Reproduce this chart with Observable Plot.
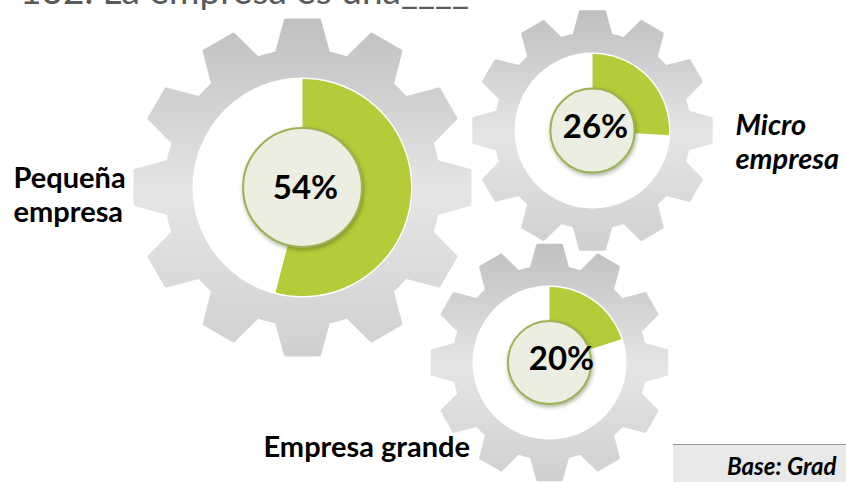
<!DOCTYPE html>
<html><head><meta charset="utf-8">
<script src="https://cdn.jsdelivr.net/npm/d3@7"></script>
<script src="https://cdn.jsdelivr.net/npm/@observablehq/plot@0.6"></script>
<style>
body{margin:0;background:#fff;}
#wrap{position:relative;width:846px;height:482px;overflow:hidden;font-family:Lato,sans-serif;}
#chart{position:absolute;left:0;top:0;}
#title{position:absolute;left:20px;top:-29px;font-size:37px;line-height:1;color:#5a5a5a;white-space:pre;}
#base{position:absolute;left:673px;top:444px;width:173px;height:38px;background:#e9e9e9;border-top:1px solid #9c9c9c;box-sizing:border-box;overflow:hidden;}
#base span{position:absolute;left:54px;top:9px;font-size:24px;font-weight:bold;font-style:italic;color:#000;white-space:pre;line-height:1;}
</style></head>
<body><div id="wrap"><div id="chart"></div><div id="title"></div><div id="base"><span></span></div></div>
<script>
// ---- data ----
const categories = ["Pequeña empresa", "Micro empresa", "Empresa grande"];
const values = [54, 26, 20];
const valueLabels = ["54%", "26%", "20%"];
const titleText = "132. La empresa es una____";
const baseText = "Base: Grad";

// ---- layout (pixel positions / sizes, not data) ----
const layout = [
  {cx: 302, cy: 187, s: 110, px: 305, py: 188, tx: 13, ty: 163, wrap: true, italic: false},
  {cx: 592, cy: 130, s: 78, px: 595, py: 127, tx: 735, ty: 110, wrap: true, italic: true},
  {cx: 549, cy: 362, s: 77, px: 561, py: 359, tx: 263, ty: 432, wrap: false, italic: false}
];

const gears = categories.map((c, i) => ({category: c, value: values[i], label: valueLabels[i], ...layout[i]}));
const rad = Math.PI / 180;
const pt = (g, a, r) => ({category: g.category, x: g.cx + r * Math.sin(a * rad), y: g.cy - r * Math.cos(a * rad)});

// gear outlines
const gearPts = [];
for (const g of gears) {
  const R = 1.53 * g.s, r = 1.245 * g.s;
  for (let k = 0; k < 12; k++) {
    const c = k * 30;
    for (const [a, rr] of [[c - 15, r], [c - 11, r], [c - 5.8, R], [c + 5.8, R], [c + 11, r]]) gearPts.push(pt(g, a, rr));
  }
}
// value slices
const slicePts = [];
for (const g of gears) {
  const end = g.value * 3.6;
  const outer = g.s - 1.5, inner = 0.4 * g.s;
  for (let a = 0; a <= end; a += 1) slicePts.push(pt(g, a, outer));
  slicePts.push(pt(g, end, outer));
  slicePts.push(pt(g, end, inner));
  for (let a = end; a >= 0; a -= 1) slicePts.push(pt(g, a, inner));
  slicePts.push(pt(g, 0, inner));
}

const labelText = d => d.wrap ? d.category.replace(" ", "\n") : d.category;

const chart = Plot.plot({
  width: 846, height: 482, margin: 0,
  x: {domain: [0, 846], range: [0, 846], axis: null},
  y: {domain: [0, 482], range: [0, 482], axis: null},
  r: {type: "identity"},
  style: {fontFamily: "Lato, sans-serif", background: "transparent", overflow: "visible"},
  marks: [
    Plot.line(gearPts, {x: "x", y: "y", z: "category", curve: "linear-closed", fill: "url(#gearGrad)", stroke: "url(#gearGrad)", strokeWidth: 3, strokeLinejoin: "round"}),
    Plot.dot(gears, {x: "cx", y: "cy", r: "s", fill: "white", stroke: "none"}),
    Plot.line(slicePts, {x: "x", y: "y", z: "category", curve: "linear-closed", fill: "#B5CC3A", stroke: "none"}),
    Plot.dot(gears, {x: "cx", y: "cy", r: d => d.s * 0.54, fill: "#EBEEE0", stroke: "#9DB356", strokeWidth: 2}),
    Plot.text(gears, {x: "px", y: "py", text: "label", fontSize: 33, fontWeight: "bold", fill: "#000"}),
    Plot.text(gears, {filter: d => !d.italic, x: "tx", y: "ty", text: labelText, textAnchor: "start", lineAnchor: "top", lineHeight: 1.18, fontSize: 29, fontWeight: "bold", fill: "#000"}),
    Plot.text(gears, {filter: d => d.italic, x: "tx", y: "ty", text: labelText, textAnchor: "start", lineAnchor: "top", lineHeight: 1.18, fontSize: 29, fontWeight: "bold", fontStyle: "italic", fill: "#000"})
  ]
});

chart.insertAdjacentHTML("afterbegin",
  `<defs><linearGradient id="gearGrad" x1="0" y1="0" x2="0" y2="1">
     <stop offset="0%" stop-color="#BFC0C2"/><stop offset="52%" stop-color="#E5E5E5"/><stop offset="100%" stop-color="#D0D0D1"/>
   </linearGradient></defs>`);
for (const g of chart.querySelectorAll("g[fill]")) {
  if ((g.getAttribute("fill") || "").toLowerCase() === "#ebeee0") g.style.filter = "drop-shadow(1px 2px 2px rgba(60,80,20,0.45))";
}
document.getElementById("chart").appendChild(chart);
document.getElementById("title").textContent = titleText;
document.querySelector("#base span").textContent = baseText;
</script>
</body></html>
